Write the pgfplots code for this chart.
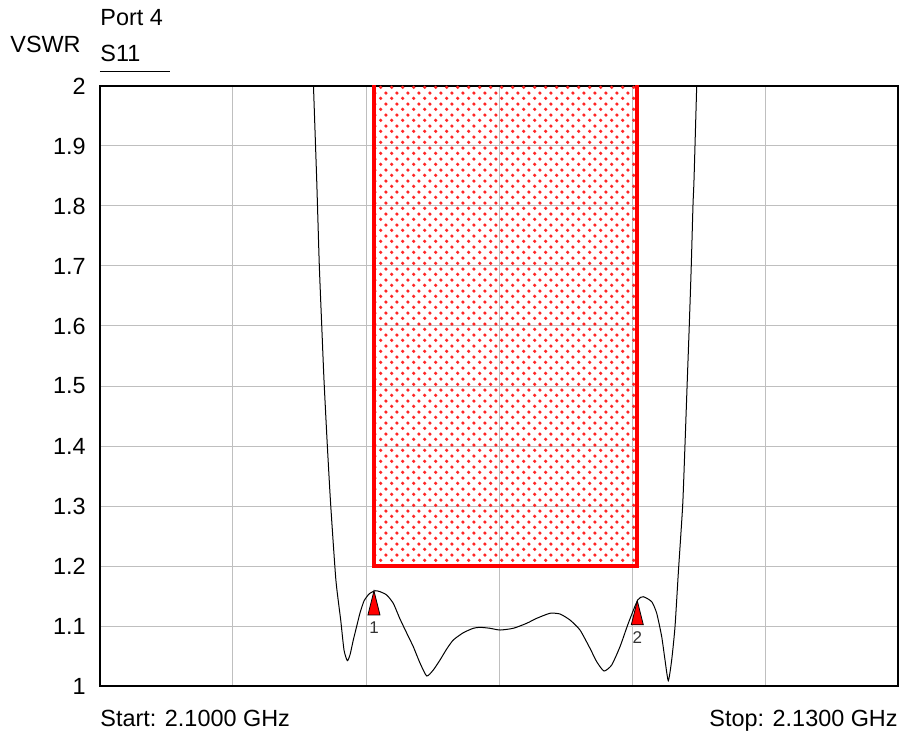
\documentclass[border=0pt]{standalone}
\usepackage{pgfplots}
\pgfplotsset{compat=1.18}
\usepackage{fontspec}
\setmainfont{Liberation Sans}
\usetikzlibrary{patterns.meta}

\tikzdeclarepattern{
  name=mydots, type=uncolored,
  bounding box={(0pt,0pt) and (5.4pt,5.4pt)},
  tile size={(5.4pt,5.4pt)},
  code={
    \pgfpathcircle{\pgfqpoint{1.35pt}{1.35pt}}{0.9pt}
    \pgfpathcircle{\pgfqpoint{4.05pt}{4.05pt}}{0.9pt}
    \pgfusepath{fill}
  }
}

\pgfdeclareplotmark{vmark}{%
  \pgfpathmoveto{\pgfqpoint{0pt}{0pt}}%
  \pgfpathlineto{\pgfqpoint{3pt}{-12pt}}%
  \pgfpathlineto{\pgfqpoint{-3pt}{-12pt}}%
  \pgfpathclose
  \pgfusepathqfillstroke}

\pgfplotstableread{
f v
2.108008 2.0433
2.108026 2.0
2.108147 1.8433
2.108244 1.7017
2.108335 1.6017
2.108421 1.51
2.108545 1.4017
2.108673 1.3017
2.108868 1.1767
2.109049 1.11
2.109173 1.06
2.109297 1.0422
2.109398 1.0517
2.109523 1.0767
2.109662 1.1017
2.109774 1.1217
2.109925 1.1417
2.110113 1.1533
2.110338 1.1588
2.110526 1.1572
2.110778 1.1517
2.111026 1.1378
2.111278 1.1117
2.111530 1.0883
2.111778 1.0655
2.112030 1.0383
2.112282 1.0167
2.112530 1.0267
2.112782 1.0433
2.113034 1.0617
2.113282 1.0767
2.113658 1.0888
2.114034 1.0962
2.114286 1.0978
2.114662 1.0962
2.115038 1.0933
2.115538 1.0962
2.116041 1.1045
2.116417 1.1128
2.116917 1.1212
2.117293 1.1200
2.117669 1.1100
2.118045 1.0933
2.118421 1.0628
2.118673 1.0405
2.118947 1.0250
2.119237 1.0350
2.119549 1.0655
2.119861 1.1045
2.120214 1.1433
2.120425 1.1488
2.120741 1.1405
2.120929 1.1212
2.121117 1.0822
2.121241 1.0433
2.121365 1.0088
2.121492 1.0433
2.121617 1.0988
2.121748 1.1933
2.121906 1.3017
2.121992 1.4017
2.122079 1.51
2.122154 1.6017
2.122229 1.7017
2.122293 1.8017
2.122331 1.8433
2.122432 2.0
2.122451 2.0433
}\sdata

\pgfplotstableread{
f v label
2.11030 1.1585 1
2.12020 1.1420 2
}\markers

\newcommand{\tf}{\fontsize{11.7}{14}\selectfont}

\begin{document}
\begin{tikzpicture}
\begin{axis}[
  scale only axis, width=399pt, height=300pt,
  xmin=2.1, xmax=2.13, ymin=1, ymax=2,
  xtick={2.1,2.105,2.11,2.115,2.12,2.125,2.13},
  xticklabels={},
  ytick={1,1.1,1.2,1.3,1.4,1.5,1.6,1.7,1.8,1.9,2},
  yticklabels={1,1.1,1.2,1.3,1.4,1.5,1.6,1.7,1.8,1.9,2},
  grid=major,
  major grid style={draw=black!25, line width=0.5pt},
  axis line style={line width=1pt},
  major tick length=0pt,
  tick label style={font=\tf},
  yticklabel style={xshift=-3.6pt},
  /pgf/number format/assume math mode=true,
]
\coordinate (ll) at (rel axis cs:0,0);
\addplot[draw=none, pattern=mydots, pattern color=red!85] coordinates {(2.1103,1.2) (2.1202,1.2) (2.1202,2) (2.1103,2)} -- cycle;
\addplot[red, line width=2pt, line join=miter] coordinates {(2.1103,2.05) (2.1103,1.2) (2.1202,1.2) (2.1202,2.05)};
\addplot[black, line width=0.5pt, smooth, tension=0.35] table[x=f, y=v] {\sdata};
\addplot[only marks, mark=vmark, mark options={fill=red, draw=black, line width=0.4pt},
  point meta=explicit symbolic,
  nodes near coords,
  nodes near coords style={anchor=center, yshift=-18.5pt, font=\fontsize{8.5}{10}\selectfont, text=black!80}]
  table[x=f, y=v, meta=label] {\markers};
\end{axis}
\node[anchor=base west, inner sep=0pt, font=\tf] at ([shift={(-45pt,316.5pt)}]ll) {VSWR};
\node[anchor=base west, inner sep=0pt, font=\tf] at ([shift={(0pt,330pt)}]ll) {Port 4};
\node[anchor=base west, inner sep=0pt, font=\tf] at ([shift={(0pt,312pt)}]ll) {S11};
\draw[line width=0.5pt] ([shift={(0pt,307pt)}]ll) -- ++(35pt,0pt);
\node[anchor=base west, inner sep=0pt, font=\tf] at ([shift={(0pt,-20pt)}]ll) {Start: 2.1000 GHz};
\node[anchor=base east, inner sep=0pt, font=\tf] at ([shift={(399pt,-20pt)}]ll) {Stop: 2.1300 GHz};
\pgfresetboundingbox
\path[use as bounding box] ([shift={(-50pt,-24.5pt)}]ll) rectangle ++(452.5pt,367.5pt);
\end{tikzpicture}
\end{document}
